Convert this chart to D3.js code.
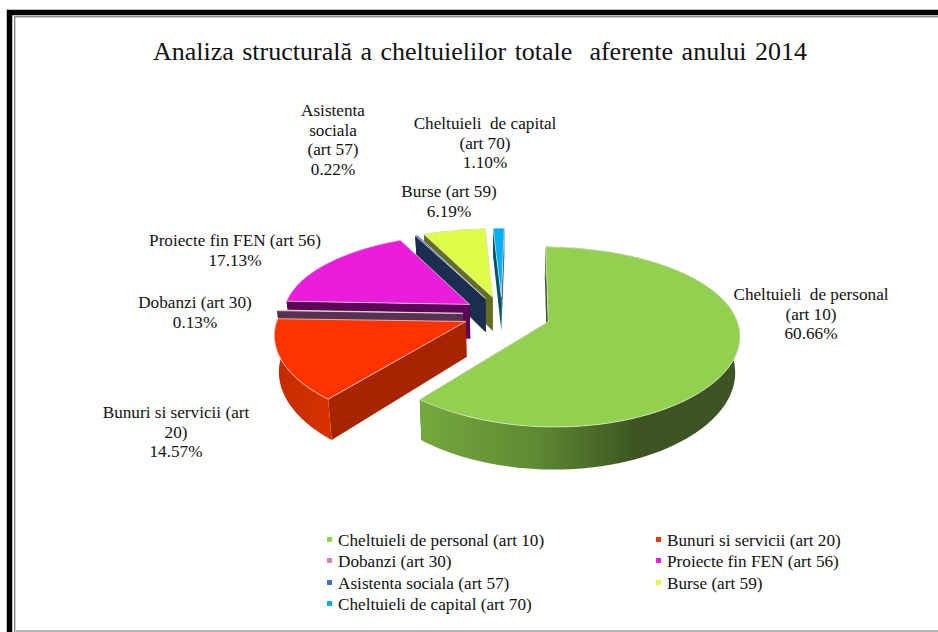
<!DOCTYPE html>
<html><head><meta charset="utf-8">
<style>html,body{margin:0;padding:0;background:#fff}svg{display:block}text{font-family:"Liberation Serif",serif;fill:#111}</style>
<script src="https://cdn.jsdelivr.net/npm/d3@7"></script></head>
<body><svg id="c" width="938" height="632"></svg>
<script>
const categories=["Cheltuieli de personal (art 10)","Bunuri si servicii (art 20)","Dobanzi (art 30)","Proiecte fin FEN (art 56)","Asistenta sociala (art 57)","Burse (art 59)","Cheltuieli de capital (art 70)"];
const values=[60.66,14.57,0.13,17.13,0.22,6.19,1.10];
const explode=[0.26,0.21,0.21,0.21,0.21,0.21,0.21];
const topColors=["#92d050","#ff3300","#d87fb8","#e91ddb","#4472c4","#e0fb48","#00b0f0"];
const legendColors=["#92d050","#ff3300","#d87fb8","#e91ddb","#4472c4","#e0fb48","#00b0f0"];
const wallColors=["#3b5420","#a62400","#573152","#5c0656","#1b2e50","#636e24","#00536f"];
const labelLines=[["Cheltuieli  de personal","(art 10)","60.66%"],["Bunuri si servicii (art","20)","14.57%"],["Dobanzi (art 30)","0.13%"],["Proiecte fin FEN (art 56)","17.13%"],["Asistenta","sociala","(art 57)","0.22%"],["Burse (art 59)","6.19%"],["Cheltuieli  de capital","(art 70)","1.10%"]];
const labelAt=[[811,300],[176,418],[195,308],[235,246],[333,116],[449,197],[485,129]];
const titleText="Analiza structurală a cheltuielilor totale  aferente anului 2014";

const svg=d3.select("#c");
// frame
svg.append("rect").attr("x",9.5).attr("y",12.5).attr("width",950).attr("height",640).attr("fill","none").attr("stroke","#000").attr("stroke-width",5.5);
svg.append("rect").attr("x",14.7).attr("y",16.7).attr("width",950).attr("height",640).attr("fill","none").attr("stroke","#888").attr("stroke-width",1.4);
svg.append("rect").attr("x",16).attr("y",630).attr("width",922).attr("height",2).attr("fill","#b5b5b5");

const defs=svg.append("defs");
const gr=defs.append("linearGradient").attr("id","gGreen").attr("gradientUnits","userSpaceOnUse").attr("x1",423).attr("x2",740).attr("y1",0).attr("y2",0);
[[0,"#74a83d"],[.35,"#5f8a33"],[.68,"#3c5421"],[1,"#3d5524"]].forEach(d=>gr.append("stop").attr("offset",d[0]).attr("stop-color",d[1]));
const gr2=defs.append("linearGradient").attr("id","gRed").attr("gradientUnits","userSpaceOnUse").attr("x1",275).attr("x2",332).attr("y1",0).attr("y2",0);
[[0,"#c22c00"],[1,"#d93200"]].forEach(d=>gr2.append("stop").attr("offset",d[0]).attr("stop-color",d[1]));
const arcWall=["url(#gGreen)","url(#gRed)","#573152","#5c0656","#1b2e50","#636e24","#00536f"];

// perspective projection of the tilted pie plane
const cx=502,cy=314,R=187,K=85,Px=0.13,Py=0.165,depth=35,conv=0.02;
function proj(X,Z,low){
  const sx=1/(1-Px*Z),sy=1/(1-Py*Z);
  let x=R*X*sx,y=K*Z*sy;
  if(low){x*=1-conv;y+=depth*sy;}
  return [cx+x,cy+y];
}
const rot=Math.PI/180;
const pie=d3.pie().sort(null).startAngle(rot).endAngle(2*Math.PI+rot);
const arcs=pie(values);
const line=d3.line().curve(d3.curveLinear);
const g=svg.append("g");
const order=[6,5,4,3,2,1,0];
order.forEach(i=>{
  const a=arcs[i],mid=(a.startAngle+a.endAngle)/2;
  const ox=Math.sin(mid)*explode[i],oz=-Math.cos(mid)*explode[i];
  const pt=(t,low)=>proj(ox+Math.sin(t),oz-Math.cos(t),low);
  const ap=low=>proj(ox,oz,low);
  const n=Math.max(2,Math.ceil((a.endAngle-a.startAngle)*60));
  const ts=d3.range(n+1).map(k=>a.startAngle+(a.endAngle-a.startAngle)*k/n);
  const sg=g.append("g");
  [a.startAngle,a.endAngle].forEach(t=>{
    sg.append("path").attr("d",line([ap(false),pt(t,false),pt(t,true),ap(true)])+"Z").attr("fill",wallColors[i]);
  });
  sg.append("path").attr("d",line(ts.map(t=>pt(t,false)).concat(ts.slice().reverse().map(t=>pt(t,true))))+"Z").attr("fill",arcWall[i]);
  sg.append("path").attr("d",line([ap(false)].concat(ts.map(t=>pt(t,false))))+"Z").attr("fill",topColors[i]).attr("stroke","#eceae6").attr("stroke-width",0.7);
});

// title
svg.append("text").attr("x",480).attr("y",60).attr("text-anchor","middle").style("font-size","26px").style("word-spacing","2px").attr("xml:space","preserve").text(titleText);
// data labels
labelLines.forEach((ls,i)=>{
  const t=svg.append("text").attr("text-anchor","middle").style("font-size","17.2px").attr("xml:space","preserve");
  ls.forEach((s,k)=>t.append("tspan").attr("x",labelAt[i][0]).attr("y",labelAt[i][1]+k*19.7).text(s));
});
// legend
const colX=[327,656],rowY=[541,562,584,605];
const legendPos=[[0,0],[1,0],[0,1],[1,1],[0,2],[1,2],[0,3]];
categories.forEach((c,i)=>{
  const [cc,r]=legendPos[i];
  svg.append("rect").attr("x",colX[cc]).attr("y",rowY[r]-4).attr("width",5).attr("height",5).attr("fill",legendColors[i]);
  svg.append("text").attr("x",colX[cc]+11).attr("y",rowY[r]+5).style("font-size","17.2px").text(c);
});
</script></body></html>
